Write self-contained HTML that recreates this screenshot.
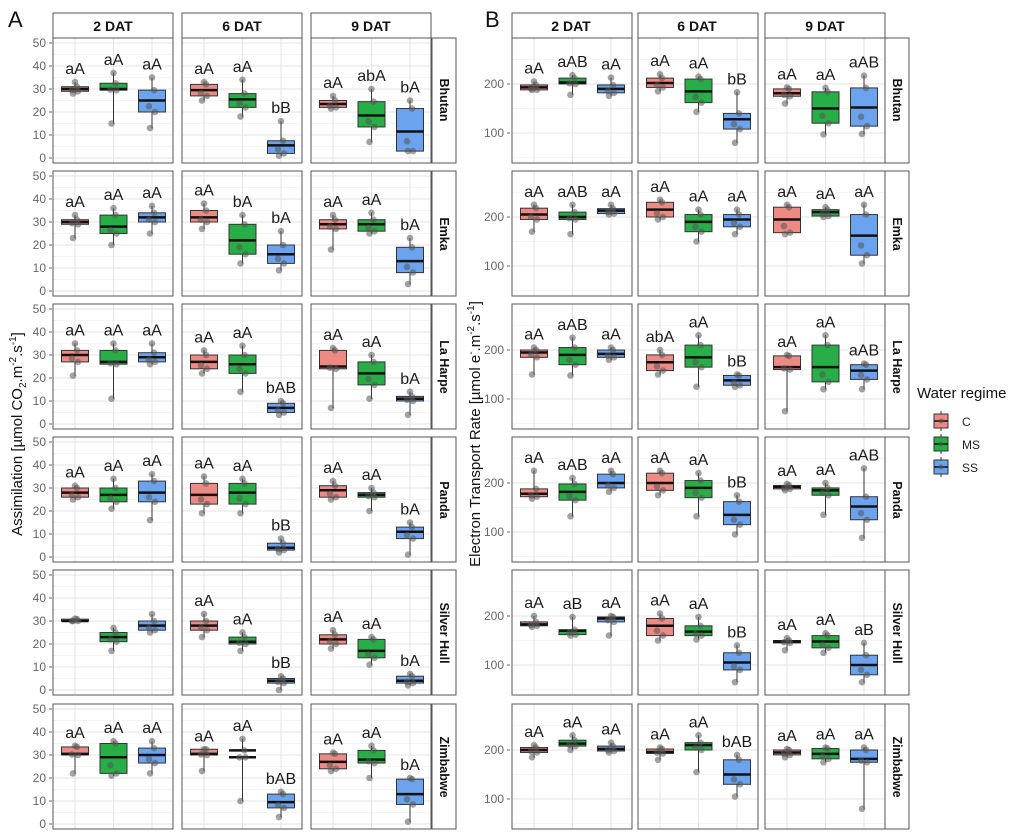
<!DOCTYPE html>
<html><head><meta charset="utf-8"><style>
html,body{margin:0;padding:0;background:#fff}
svg{display:block;font-family:"Liberation Sans",sans-serif}
.st{font-weight:bold;font-size:14px;fill:#111}
.rs{font-weight:bold;font-size:12.5px;fill:#111}
.tk{font-size:12px;fill:#666}
.lb{font-size:16px;fill:#1a1a1a}
</style></head><body>
<svg id="s" width="1024" height="836" viewBox="0 0 1024 836" xmlns="http://www.w3.org/2000/svg">
<g id="bg"></g>
<text x="8" y="27" font-size="22" fill="#111">A</text>
<text x="485" y="27" font-size="22" fill="#111">B</text>
<g id="strips"></g>
<text class="st" x="113" y="31" text-anchor="middle">2 DAT</text>
<text class="st" x="242" y="31" text-anchor="middle">6 DAT</text>
<text class="st" x="371" y="31" text-anchor="middle">9 DAT</text>
<text class="st" x="571" y="31" text-anchor="middle">2 DAT</text>
<text class="st" x="697" y="31" text-anchor="middle">6 DAT</text>
<text class="st" x="825" y="31" text-anchor="middle">9 DAT</text>
<g class="rs" text-anchor="middle">
<text transform="translate(440,100) rotate(90)">Bhutan</text>
<text transform="translate(440,234) rotate(90)">Emka</text>
<text transform="translate(440,367) rotate(90)">La Harpe</text>
<text transform="translate(440,500) rotate(90)">Panda</text>
<text transform="translate(440,633) rotate(90)">Silver Hull</text>
<text transform="translate(440,767) rotate(90)">Zimbabwe</text>
<text transform="translate(893,100) rotate(90)">Bhutan</text>
<text transform="translate(893,234) rotate(90)">Emka</text>
<text transform="translate(893,367) rotate(90)">La Harpe</text>
<text transform="translate(893,500) rotate(90)">Panda</text>
<text transform="translate(893,633) rotate(90)">Silver Hull</text>
<text transform="translate(893,767) rotate(90)">Zimbabwe</text>
</g>
<g id="ticks" class="tk" text-anchor="end"></g>
<text transform="translate(22,434) rotate(-90)" font-size="15" fill="#111" text-anchor="middle">Assimilation [µmol CO<tspan font-size="10" dy="4">2</tspan><tspan dy="-4">.m</tspan><tspan font-size="10" dy="-6">-2</tspan><tspan dy="6">.s</tspan><tspan font-size="10" dy="-6">-1</tspan><tspan dy="6">]</tspan></text>
<text transform="translate(480,434) rotate(-90)" font-size="15" fill="#111" text-anchor="middle">Electron Transport Rate [µmol e<tspan font-size="10" dy="-6">-</tspan><tspan dy="6">.m</tspan><tspan font-size="10" dy="-6">-2</tspan><tspan dy="6">.s</tspan><tspan font-size="10" dy="-6">-1</tspan><tspan dy="6">]</tspan></text>
<g id="plot"></g>
<g id="lab" class="lb" text-anchor="middle">
<text>aA</text><text>aA</text><text>aA</text><text>aA</text><text>aA</text><text>bB</text><text>aA</text><text>abA</text><text>bA</text>
<text>aA</text><text>aA</text><text>aA</text><text>aA</text><text>bA</text><text>bA</text><text>aA</text><text>aA</text><text>bA</text>
<text>aA</text><text>aA</text><text>aA</text><text>aA</text><text>aA</text><text>bAB</text><text>aA</text><text>aA</text><text>bA</text>
<text>aA</text><text>aA</text><text>aA</text><text>aA</text><text>aA</text><text>bB</text><text>aA</text><text>aA</text><text>bA</text>
<text></text><text></text><text></text><text>aA</text><text>aA</text><text>bB</text><text>aA</text><text>aA</text><text>bA</text>
<text>aA</text><text>aA</text><text>aA</text><text>aA</text><text>aA</text><text>bAB</text><text>aA</text><text>aA</text><text>bA</text>
<text>aA</text><text>aAB</text><text>aA</text><text>aA</text><text>aA</text><text>bB</text><text>aA</text><text>aA</text><text>aAB</text>
<text>aA</text><text>aAB</text><text>aA</text><text>aA</text><text>aA</text><text>aA</text><text>aA</text><text>aA</text><text>aA</text>
<text>aA</text><text>aAB</text><text>aA</text><text>abA</text><text>aA</text><text>bB</text><text>aA</text><text>aA</text><text>aAB</text>
<text>aA</text><text>aAB</text><text>aA</text><text>aA</text><text>aA</text><text>bB</text><text>aA</text><text>aA</text><text>aAB</text>
<text>aA</text><text>aB</text><text>aA</text><text>aA</text><text>aA</text><text>bB</text><text>aA</text><text>aA</text><text>aB</text>
<text>aA</text><text>aA</text><text>aA</text><text>aA</text><text>aA</text><text>bAB</text><text>aA</text><text>aA</text><text>aA</text>
</g>
<g id="leg"></g>
<text x="917" y="398" font-size="15" fill="#111">Water regime</text>
<text x="962" y="426" font-size="12" fill="#222">C</text>
<text x="962" y="449" font-size="12" fill="#222">MS</text>
<text x="962" y="472" font-size="12" fill="#222">SS</text>
</svg>
<script>
var NS="http://www.w3.org/2000/svg";
function el(p,t,a){var e=document.createElementNS(NS,t);for(var k in a)e.setAttribute(k,a[k]);p.appendChild(e);return e;}
var bg=document.getElementById('bg'),strips=document.getElementById('strips'),ticks=document.getElementById('ticks'),plot=document.getElementById('plot'),leg=document.getElementById('leg');
var tops=[38,171,304,437,570,704],H=125;
var colsA=[53,182,311],colsB=[512,638,765],W=120;
var fills=['#EE8A84','#27AE47','#6CA3EE'];
var A=[
[[28,29,30,31,33],[15,29.5,30,32.5,37],[13,20,25,29.5,35]],[[25,27,29.5,32,33],[18,22,25.5,28,34],[1,2,5.5,7.5,16]],[[21.5,22,23.5,25,27],[7,13.5,18.5,24.5,30],[3,3,11.5,21.5,25]],
[[23,29,30,31,33],[20,25,28,33,36],[25,30,32,34,37]],[[27,30,32,35,38],[12,16,22,29,33],[9,12,16,20,26]],[[18,27,29,31,33],[25,26,29,31,34],[3,8,13,19,23]],
[[21,27,30,32,35],[11,26,27,32,35],[26,27,29,31,35]],[[22,24,27,30,32],[14,22,26,30,34],[4,5,7,9,10]],[[7,24,25,32,33],[11,17,22,27,30],[4,10,11,12,14]],
[[25,26,28,30,31],[21,24,27,30,34],[16,24,28,33,36]],[[19,23,27,32,35],[19,23,28,32,34],[2,3,4,6,8]],[[25,26,29,31,33],[20,26,27,28,30],[1,8,11,13,15]],
[[30,30,30,30.8,31],[17,21,23,25,27],[25,26,28,30,33]],[[23,26,28,30,33],[17,20,21,23,25],[0,3,4,5,6]],[[18,20,22,24,26],[11,14,17,22,23],[2,3,4,6,7]],
[[22,30,30.5,33.5,34],[21,22,29,35,36],[22,26.5,30,33,36]],[[23,30,30.5,32.5,32.5],[10,29,29,32,37],[3,7,9.5,13,14]],[[23,24,27,30.5,31],[20,26.5,28,32,34],[1,8.5,13,19.5,20]]];
var B=[
[[188,188,193,198,205],[178,200,203,212,218],[176,182,190,198,213]],[[185,193,202,212,220],[143,162,185,210,215],[80,108,128,140,183]],[[160,175,181,190,193],[97,120,150,184,192],[98,114,152,192,217]],
[[170,195,205,218,225],[165,195,200,210,225],[205,207,213,217,225]],[[195,200,215,230,235],[150,170,190,205,215],[165,180,195,205,215]],[[165,168,195,220,225],[200,202,210,215,220],[105,122,162,205,225]],
[[150,185,195,200,205],[148,170,190,205,225],[180,185,192,200,205]],[[150,158,175,190,200],[125,165,185,210,230],[125,128,138,148,150]],[[75,160,165,188,190],[120,135,165,210,230],[120,140,158,170,172]],
[[168,172,178,188,225],[132,165,182,198,210],[182,190,200,218,225]],[[175,185,200,220,225],[132,170,190,205,220],[95,115,135,162,175]],[[185,188,192,195,198],[135,175,185,190,200],[88,125,152,172,230]],
[[178,180,183,188,200],[160,162,170,172,198],[160,188,195,198,200]],[[150,160,180,195,205],[152,160,168,180,198],[65,90,105,125,140]],[[130,145,148,150,155],[125,135,148,160,165],[65,80,100,120,145]],
[[185,195,200,205,210],[200,208,213,220,230],[195,198,202,208,215]],[[180,193,196,202,205],[155,200,210,215,230],[105,130,150,180,190]],[[185,190,195,200,202],[175,182,192,203,205],[80,175,182,200,205]]];
var labs=document.getElementById('lab').children,li=0;
function panelSet(cols,data,yf,gridMaj,gridMin,tickv,tx,stripX){
 cols.forEach(function(x){el(strips,'rect',{x:x,y:13,width:W,height:25,fill:'#fff',stroke:'#555','stroke-width':1});});
 for(var r=0;r<6;r++){
  var t=tops[r];
  el(strips,'rect',{x:stripX,y:t,width:24,height:H,fill:'#fff',stroke:'#555','stroke-width':1});
  tickv.forEach(function(v){var y=yf(t,v);el(ticks,'text',{x:tx,y:y+4}).textContent=v;el(bg,'line',{x1:tx+3,x2:tx+6,y1:y,y2:y,stroke:'#666'});});
  for(var c=0;c<3;c++){
   var x0=cols[c];
   el(bg,'rect',{x:x0,y:t,width:W,height:H,fill:'#fff'});
   gridMin.forEach(function(v){var y=yf(t,v);if(y>t&&y<t+H)el(bg,'line',{x1:x0,x2:x0+W,y1:y,y2:y,stroke:'#f0f0f0','stroke-width':0.7});});
   gridMaj.forEach(function(v){var y=yf(t,v);if(y>t&&y<t+H)el(bg,'line',{x1:x0,x2:x0+W,y1:y,y2:y,stroke:'#e3e3e3','stroke-width':1});});
   for(var b=0;b<3;b++){var cx=x0+22+b*38.5;el(bg,'line',{x1:cx,x2:cx,y1:t,y2:t+H,stroke:'#e3e3e3'});}
   el(strips,'rect',{x:x0,y:t,width:W,height:H,fill:'none',stroke:'#555','stroke-width':1});
   var d=data[r*3+c];
   for(var b=0;b<3;b++){
    var s=d[b],cx=x0+22+b*38.5,bw=27;
    var yl=yf(t,s[0]),y1=yf(t,s[1]),ym=yf(t,s[2]),y3=yf(t,s[3]),yh=yf(t,s[4]);
    el(plot,'line',{x1:cx,x2:cx,y1:yl,y2:yh,stroke:'#333','stroke-width':1});
    var blank=(cols===colsA&&r==5&&c==1&&b==1);
    el(plot,'rect',{x:cx-bw/2,y:y3,width:bw,height:Math.max(y1-y3,1.5),fill:blank?'#fff':fills[b],stroke:blank?'none':'#333','stroke-width':1});
    if(blank){el(plot,'line',{x1:cx-bw/2,x2:cx+bw/2,y1:y3,y2:y3,stroke:'#111','stroke-width':2.5});}
    el(plot,'line',{x1:cx-bw/2,x2:cx+bw/2,y1:ym,y2:ym,stroke:'#111','stroke-width':2.5});
    [s[0],s[1],(s[1]+s[2])/2,s[3],s[4]].forEach(function(v,i){el(plot,'circle',{cx:cx+[-2,3,-3,2,0][i],cy:yf(t,v),r:3.3,fill:'#555','fill-opacity':0.55});});
    var L=labs[li++];L.setAttribute('x',cx);L.setAttribute('y',yh-8);
   }
  }
 }
}
panelSet(colsA,A,function(t,v){return t+120-v*2.3;},[0,10,20,30,40,50],[5,15,25,35,45],[0,10,20,30,40,50],46,432);
panelSet(colsB,B,function(t,v){return t+46+(200-v)*0.49;},[100,200],[50,150,250],[100,200],504,885);
[421,444,467].forEach(function(y,i){
 el(leg,'line',{x1:941,x2:941,y1:y-10,y2:y+10,stroke:'#333'});
 el(leg,'rect',{x:934,y:y-7,width:14,height:14,fill:fills[i],stroke:'#333'});
 el(leg,'line',{x1:934,x2:948,y1:y,y2:y,stroke:'#111','stroke-width':1.5});
 el(leg,'circle',{cx:941,cy:y,r:2.5,fill:'#555','fill-opacity':0.6});
});
</script>
</body></html>
